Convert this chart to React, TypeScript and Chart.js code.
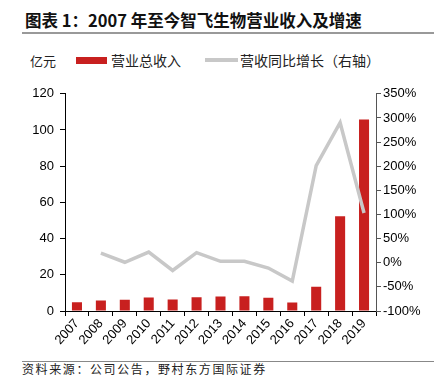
import React, { useEffect, useRef } from "react";
import { Chart, registerables } from "chart.js";

Chart.register(...registerables);

const years = ["2007", "2008", "2009", "2010", "2011", "2012", "2013", "2014", "2015", "2016", "2017", "2018", "2019"];
const revenue = [4.9, 5.8, 6.2, 7.4, 6.4, 7.6, 8.0, 8.2, 7.3, 4.7, 13.4, 52.4, 105.8];
const growth = [null, 20, 1, 22, -16, 21, 3, 3, -11, -38, 201, 290, 103];

const CJK = '"Noto Sans CJK SC", "Noto Sans", sans-serif';
const TICK_FONT = { family: '"Liberation Sans", Arial, sans-serif', size: 13 };

export default function App() {
  const ref = useRef<HTMLCanvasElement | null>(null);
  useEffect(() => {
    const ctx = ref.current!;
    const chart = new Chart(ctx, {
      data: {
        labels: years,
        datasets: [
          {
            type: "line",
            label: "营收同比增长（右轴）",
            data: growth as any,
            borderColor: "#c8c8c8",
            borderWidth: 3.5,
            pointRadius: 0,
            yAxisID: "y1",
            order: 0,
          },
          {
            type: "bar",
            label: "营业总收入",
            data: revenue,
            backgroundColor: "#c8201f",
            barPercentage: 0.42,
            categoryPercentage: 1,
            yAxisID: "y",
            order: 1,
          },
        ],
      } as any,
      options: {
        animation: false,
        responsive: false,
        maintainAspectRatio: false,
        layout: { padding: { top: 10, left: 0, right: 0, bottom: 0 } },
        plugins: { legend: { display: false }, tooltip: { enabled: false } },
        scales: {
          x: {
            offset: true,
            grid: { display: true, drawOnChartArea: false, offset: true, tickLength: 5, color: "#000", tickColor: "#000" },
            border: { color: "#000", width: 1 },
            ticks: { color: "#000", font: TICK_FONT, minRotation: 48, maxRotation: 48, autoSkip: false, padding: 0 },
            afterFit: (s: any) => { s.height = 47; },
          },
          y: {
            position: "left",
            min: 0,
            max: 120,
            grid: { drawOnChartArea: false, tickLength: 5, tickColor: "#000" },
            border: { color: "#000", width: 1 },
            ticks: { stepSize: 20, color: "#000", font: TICK_FONT, padding: 6 },
            afterFit: (s: any) => { s.width = 65; },
          },
          y1: {
            position: "right",
            min: -100,
            max: 350,
            grid: { drawOnChartArea: false, tickLength: 5, tickColor: "#555" },
            border: { color: "#555", width: 1 },
            ticks: { stepSize: 50, color: "#000", font: TICK_FONT, padding: 2, callback: (v: any) => `${v}%` },
            afterFit: (s: any) => { s.width = 58; },
          },
        },
      } as any,
    });
    return () => chart.destroy();
  }, []);

  return (
    <div style={{ position: "fixed", left: 0, top: 0, width: 434, height: 376, background: "#fff", overflow: "hidden", fontFamily: CJK }}>
      <div style={{ position: "absolute", left: 25, top: 8, fontSize: 16.5, fontWeight: 700, color: "#111", whiteSpace: "nowrap", lineHeight: "24px" }}>
        图表 1：2007 年至今智飞生物营业收入及增速
      </div>
      <div style={{ position: "absolute", left: 22, top: 32, width: 412, height: 2, background: "#999" }} />
      <div style={{ position: "absolute", left: 30, top: 52, fontSize: 13, color: "#222", lineHeight: "18px" }}>亿元</div>
      <div style={{ position: "absolute", left: 76, top: 57, width: 31, height: 7, background: "#c8201f" }} />
      <div style={{ position: "absolute", left: 111, top: 51, fontSize: 14, color: "#222", lineHeight: "18px", whiteSpace: "nowrap" }}>营业总收入</div>
      <div style={{ position: "absolute", left: 205, top: 58, width: 33, height: 4, background: "#c8c8c8" }} />
      <div style={{ position: "absolute", left: 240, top: 51, fontSize: 14, color: "#222", lineHeight: "18px", whiteSpace: "nowrap" }}>营收同比增长（右轴）</div>
      <canvas ref={ref} width={434} height={278} style={{ position: "absolute", left: 0, top: 80, width: 434, height: 278 }} />
      <div style={{ position: "absolute", left: 22, top: 361, width: 412, height: 1, background: "#888" }} />
      <div style={{ position: "absolute", left: 22, top: 362, fontSize: 12, letterSpacing: 1.6, color: "#222", lineHeight: "14px", whiteSpace: "nowrap" }}>资料来源：公司公告，野村东方国际证券</div>
    </div>
  );
}
